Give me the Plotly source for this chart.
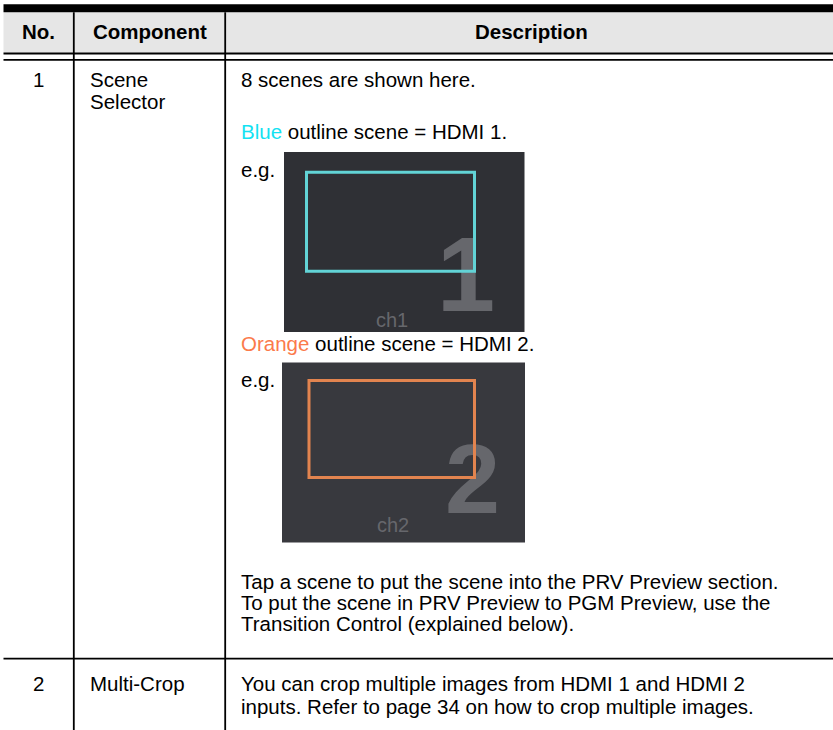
import plotly.graph_objects as go

# ---- table content ----
HEADERS = ["No.", "Component", "Description"]
ROW_NOS = ["1", "2"]
COMPONENTS = [["Scene", "Selector"], ["Multi-Crop"]]
DESC1_INTRO = "8 scenes are shown here."
HDMI_COLOR_WORDS = ["Blue", "Orange"]
HDMI_LINES = [" outline scene = HDMI 1.", " outline scene = HDMI 2."]
EG = "e.g."
SCENE_DIGITS = ["1", "2"]
SCENE_LABELS = ["ch1", "ch2"]
DESC1_TAIL = [
    "Tap a scene to put the scene into the PRV Preview section.",
    "To put the scene in PRV Preview to PGM Preview, use the",
    "Transition Control (explained below).",
]
DESC2 = [
    "You can crop multiple images from HDMI 1 and HDMI 2",
    "inputs. Refer to page 34 on how to crop multiple images.",
]

# ---- styles ----
FONT = "Liberation Sans, Arial, sans-serif"
BODY = 20.5
WORD_COLORS = ["#12e2f2", "#fb7a4b"]
OUTLINE_COLORS = ["#62d3d6", "#e2844f"]
SCENE_BG = ["#2f3035", "#38393e"]
DIGIT_COLOR = "#66676c"

W, H = 833, 730
LEFT = 3.5
COL1, COL2 = 73.8, 225.2
TXT_X = 239.0
COMP_X = 88.0

fig = go.Figure()
shapes = []
ann = []

def rect(x0, y0, x1, y1, fill, layer="below"):
    shapes.append(dict(type="rect", xref="x", yref="y", x0=x0, x1=x1, y0=y0, y1=y1,
                       fillcolor=fill, line=dict(width=0), layer=layer))

def text(x, y, s, size=BODY, anchor="left", color="#000000", weight="normal"):
    ann.append(dict(x=x, y=y, xref="x", yref="y", text=s, showarrow=False,
                    xanchor=anchor, yanchor="middle",
                    font=dict(family=FONT, size=size, color=color, weight=weight)))

# header
rect(LEFT, 12.3, W, 52.7, "#e6e6e6")
rect(LEFT, 4.3, W, 12.3, "#000000")
rect(LEFT, 52.6, W, 54.4, "#000000")
rect(LEFT, 58.9, W, 60.7, "#000000")
# column dividers
for cx in (COL1, COL2):
    shapes.append(dict(type="line", xref="x", yref="y", x0=cx, x1=cx, y0=12.3, y1=H,
                       line=dict(color="#000000", width=1.8), layer="above"))
# row divider
shapes.append(dict(type="line", xref="x", yref="y", x0=LEFT, x1=W, y0=658.7, y1=658.7,
                   line=dict(color="#000000", width=1.8), layer="above"))

# header text
hx = [(LEFT + COL1) / 2, (COL1 + COL2) / 2, 531]
for x, h in zip(hx, HEADERS):
    text(x, 31.7, h, anchor="center", weight="bold")

# row numbers
for y, n in zip([79.9, 683.4], ROW_NOS):
    text((LEFT + COL1) / 2, y, n, anchor="center")

# components
for y, s in zip([79.9, 101.5], COMPONENTS[0]):
    text(COMP_X, y, s)
text(COMP_X, 683.4, COMPONENTS[1][0])

# description row 1
text(TXT_X, 79.9, DESC1_INTRO)
for y, w, c, s in zip([131.7, 343.7], HDMI_COLOR_WORDS, WORD_COLORS, HDMI_LINES):
    text(TXT_X, y, "<span style='color:%s'>%s</span>%s" % (c, w, s))
for y in (169.9, 379.6):
    text(TXT_X, y, EG)
for y, s in zip([581.7, 602.6, 623.2], DESC1_TAIL):
    text(TXT_X, y, s)
# description row 2
for y, s in zip([683.4, 706.6], DESC2):
    text(TXT_X, y, s)

# scene thumbnails
scene_boxes = [(284, 152, 524.5, 332), (282, 362.5, 525, 542.5)]
outline_boxes = [(306.5, 172.2, 474.5, 271.2), (309, 380.5, 474.5, 477.5)]
digit_pos = [(466, 284.5, 105), (472.5, 488.5, 99)]
label_pos = [(392, 319.5), (393, 524.5)]
for i in range(2):
    x0, y0, x1, y1 = scene_boxes[i]
    rect(x0, y0, x1, y1, SCENE_BG[i])
    ox0, oy0, ox1, oy1 = outline_boxes[i]
    shapes.append(dict(type="rect", xref="x", yref="y", x0=ox0, x1=ox1, y0=oy0, y1=oy1,
                       fillcolor="rgba(0,0,0,0)", line=dict(color=OUTLINE_COLORS[i], width=3),
                       layer="above"))
    dx, dy, ds = digit_pos[i]
    fig.add_trace(go.Scatter(x=[dx], y=[dy], mode="text", text=[SCENE_DIGITS[i]],
                             textposition="middle center", cliponaxis=False, hoverinfo="skip",
                             textfont=dict(family=FONT, size=ds, color=DIGIT_COLOR, weight="bold")))
    lx, ly = label_pos[i]
    text(lx, ly, SCENE_LABELS[i], size=20, anchor="center", color=DIGIT_COLOR)

fig.update_layout(
    width=W, height=H, margin=dict(l=0, r=0, t=0, b=0),
    paper_bgcolor="white", plot_bgcolor="white", showlegend=False,
    xaxis=dict(range=[0, W], visible=False, fixedrange=True),
    yaxis=dict(range=[H, 0], visible=False, fixedrange=True),
    shapes=shapes, annotations=ann,
)
fig.write_html("out.html", config={"displayModeBar": False},
               post_script="document.body.style.margin='0px';document.body.style.overflow='hidden';")
